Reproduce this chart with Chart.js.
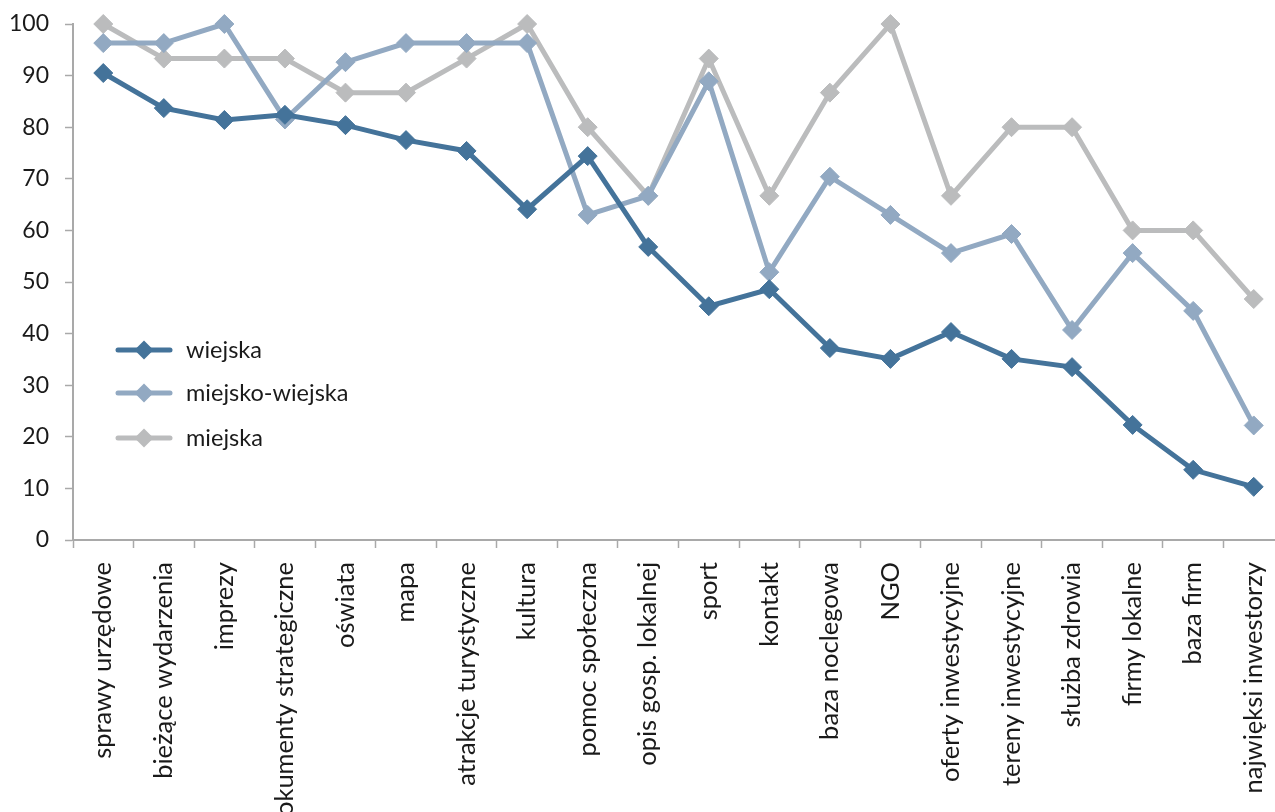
<!DOCTYPE html>
<html>
<head>
<meta charset="utf-8">
<script src="https://cdn.jsdelivr.net/npm/chart.js@4.4.1/dist/chart.umd.min.js"></script>
<style>
  html, body { margin: 0; padding: 0; background: #fff; overflow: hidden; }
  #wrap { width: 1275px; height: 812px; overflow: hidden; position: relative; }
  canvas { display: block; }
</style>
</head>
<body>
<div id="wrap"><canvas id="chart" width="1284" height="812"></canvas></div>
<script>
// Categories (x axis)
const categories = [
  'sprawy urzędowe', 'bieżące wydarzenia', 'imprezy', 'dokumenty strategiczne',
  'oświata', 'mapa', 'atrakcje turystyczne', 'kultura', 'pomoc społeczna',
  'opis gosp. lokalnej', 'sport', 'kontakt', 'baza noclegowa', 'NGO',
  'oferty inwestycyjne', 'tereny inwestycyjne', 'służba zdrowia',
  'firmy lokalne', 'baza firm', 'najwięksi inwestorzy'
];

// Share of municipalities (%) by municipality type
const wiejska = [90.5, 83.7, 81.4, 82.4, 80.4, 77.5, 75.4, 64.1, 74.4, 56.8,
                 45.3, 48.6, 37.2, 35.1, 40.3, 35.1, 33.5, 22.3, 13.6, 10.3];
const miejskoWiejska = [96.3, 96.3, 100, 81.5, 92.6, 96.3, 96.3, 96.3, 63.0, 66.7,
                        88.9, 51.9, 70.4, 63.0, 55.6, 59.3, 40.7, 55.6, 44.4, 22.2];
const miejska = [100, 93.3, 93.3, 93.3, 86.7, 86.7, 93.3, 100, 80, 66.7,
                 93.3, 66.7, 86.7, 100, 66.7, 80, 80, 60, 60, 46.7];

const seriesNames = ['wiejska', 'miejsko-wiejska', 'miejska'];
const seriesColors = ['#44739a', '#92a9c2', '#bbbcbd'];

// Y-axis tick values
const yTicks = [0, 10, 20, 30, 40, 50, 60, 70, 80, 90, 100];

const FONT = 'Lato, "Open Sans", sans-serif';
const AXIS = '#a9a9a9';

function lineDataset(label, data, color) {
  return {
    label, data,
    borderColor: color,
    backgroundColor: color,
    borderWidth: 5,
    pointStyle: 'rectRot',
    pointRadius: 9.5,
    pointHoverRadius: 9.5,
    pointBorderWidth: 1,
    pointBorderColor: color,
    pointBackgroundColor: color,
    tension: 0,
    clip: false
  };
}

// Legend drawn inside the plot area, left side
const insideLegend = {
  id: 'insideLegend',
  afterDatasetsDraw(chart) {
    const ctx = chart.ctx;
    const x0 = 118, x1 = 170, xm = 144, tx = 186;
    const rows = [350, 393, 438];
    chart.data.datasets.forEach((ds, i) => {
      const y = rows[i];
      ctx.save();
      ctx.strokeStyle = ds.borderColor;
      ctx.lineWidth = 5;
      ctx.lineCap = 'round';
      ctx.beginPath();
      ctx.moveTo(x0, y);
      ctx.lineTo(x1, y);
      ctx.stroke();
      ctx.fillStyle = ds.borderColor;
      ctx.beginPath();
      const r = 9.5;
      ctx.moveTo(xm - r, y);
      ctx.lineTo(xm, y - r);
      ctx.lineTo(xm + r, y);
      ctx.lineTo(xm, y + r);
      ctx.closePath();
      ctx.fill();
      ctx.fillStyle = '#1a1a1a';
      ctx.font = '23.5px ' + FONT;
      ctx.textAlign = 'left';
      ctx.textBaseline = 'middle';
      ctx.fillText(ds.label, tx, y);
      ctx.restore();
    });
  }
};

new Chart(document.getElementById('chart'), {
  type: 'line',
  data: {
    labels: categories,
    datasets: [
      lineDataset(seriesNames[0], wiejska, seriesColors[0]),
      lineDataset(seriesNames[1], miejskoWiejska, seriesColors[1]),
      lineDataset(seriesNames[2], miejska, seriesColors[2])
    ]
  },
  options: {
    responsive: false,
    animation: false,
    devicePixelRatio: 1,
    layout: { autoPadding: false, padding: { top: 24, left: 0, right: 0, bottom: 0 } },
    plugins: {
      legend: { display: false },
      tooltip: { enabled: false }
    },
    scales: {
      x: {
        type: 'category',
        offset: true,
        afterFit(scale) {
          scale.height = 272;
          scale.paddingLeft = 0;
          scale.paddingRight = 0;
        },
        grid: {
          display: true,
          offset: true,
          drawOnChartArea: false,
          drawTicks: true,
          tickLength: 8,
          tickWidth: 1.5,
          tickColor: AXIS
        },
        border: { display: true, color: AXIS, width: 2 },
        ticks: {
          autoSkip: false,
          minRotation: 90,
          maxRotation: 90,
          padding: 14,
          color: '#1a1a1a',
          font: { family: FONT, size: 25.5 }
        }
      },
      y: {
        min: 0,
        max: 100,
        afterFit(scale) {
          scale.width = 73;
          scale.paddingTop = 0;
          scale.paddingBottom = 0;
        },
        afterBuildTicks(scale) { scale.ticks = yTicks.map(v => ({ value: v })); },
        grid: {
          display: true,
          drawOnChartArea: false,
          drawTicks: true,
          tickLength: 8,
          tickWidth: 1.5,
          tickColor: AXIS
        },
        border: { display: true, color: AXIS, width: 2 },
        ticks: {
          padding: 16,
          color: '#1a1a1a',
          font: { family: FONT, size: 23 }
        }
      }
    }
  },
  plugins: [insideLegend]
});
</script>
</body>
</html>
